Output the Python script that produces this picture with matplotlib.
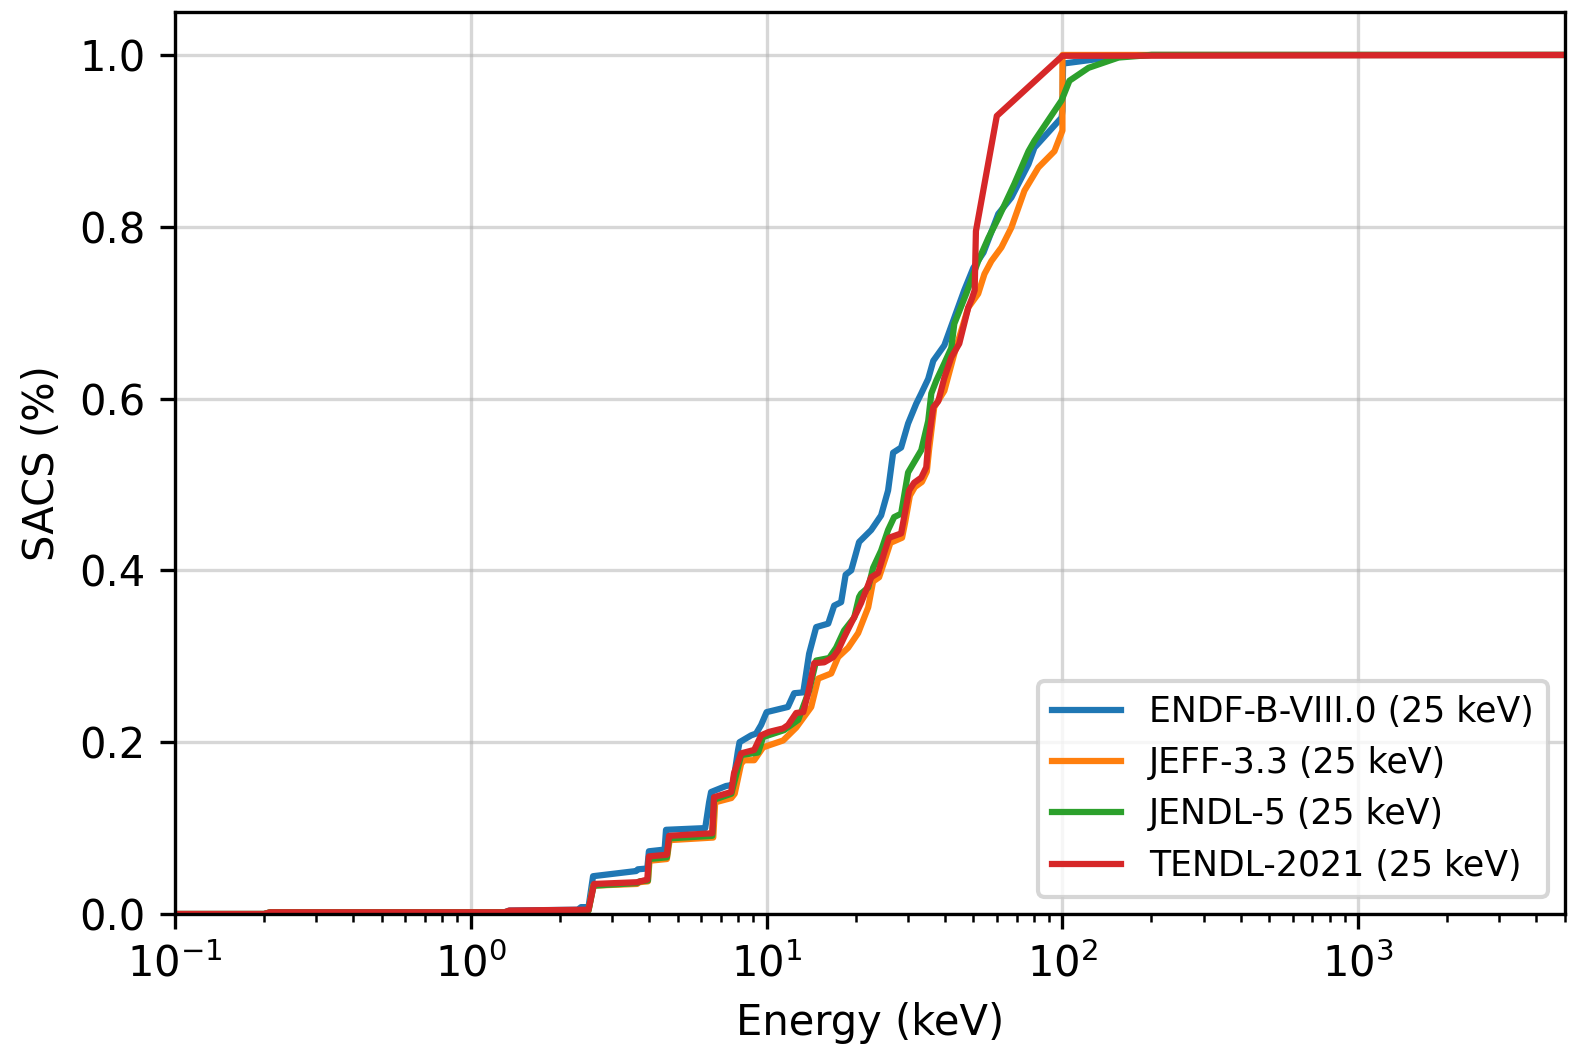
import matplotlib
matplotlib.use("Agg")
import matplotlib.pyplot as plt

labels = ["ENDF-B-VIII.0 (25 keV)", "JEFF-3.3 (25 keV)", "JENDL-5 (25 keV)", "TENDL-2021 (25 keV)"]
colors = ["#1f77b4", "#ff7f0e", "#2ca02c", "#d62728"]

endf_E = [0.1, 0.2, 0.21, 1.3, 1.35, 2.3, 2.36, 2.5, 2.59, 3.62, 3.67, 3.95, 4.0, 4.52, 4.57,
          6.2, 6.39, 6.49, 7.29, 7.59, 7.7, 8.0, 8.1, 8.87, 9.21, 9.58, 10.0, 11.8, 12.39, 13.3,
          13.92, 14.71, 16.15, 16.92, 17.86, 18.5, 19.32, 20.54, 22.57, 24.38, 25.74, 26.77,
          28.49, 30.08, 32.04, 33.33, 35.18, 36.6, 39.88, 43.09, 46.56, 49.97, 54.1, 60.7,
          67.2, 76.8, 80.4, 99.3, 100.0, 100.5, 130.0, 170.0, 200.0, 5000.0]
endf_v = [0.0, 0.0, 0.002, 0.002, 0.004, 0.005, 0.008, 0.008, 0.044, 0.050, 0.052, 0.053, 0.073,
          0.075, 0.098, 0.100, 0.130, 0.142, 0.149, 0.150, 0.152, 0.190, 0.200, 0.208, 0.210,
          0.220, 0.235, 0.241, 0.257, 0.258, 0.303, 0.334, 0.338, 0.359, 0.363, 0.395, 0.400,
          0.433, 0.447, 0.464, 0.493, 0.537, 0.543, 0.571, 0.594, 0.606, 0.623, 0.644, 0.662,
          0.694, 0.726, 0.752, 0.770, 0.815, 0.834, 0.873, 0.892, 0.927, 0.935, 0.990, 0.995,
          0.999, 1.0, 1.0]

jeff_E = [0.1, 0.2, 0.21, 1.3, 1.35, 2.5, 2.59, 3.65, 3.7, 3.97, 4.02, 4.6, 4.7, 6.6, 6.7,
          7.6, 7.8, 8.2, 8.4, 9.08, 9.73, 11.37, 12.59, 14.15, 14.94, 16.53, 17.45, 18.87,
          20.39, 22.05, 22.9, 24.0, 25.2, 26.2, 28.7, 29.4, 30.5, 31.7, 33.5, 34.8, 35.4,
          36.87, 39.88, 43.09, 48.05, 51.9, 54.5, 57.5, 62.2, 67.2, 74.4, 82.9, 94.0, 100.0,
          100.01, 5000.0]
jeff_v = [0.0, 0.0, 0.002, 0.002, 0.003, 0.004, 0.033, 0.035, 0.037, 0.038, 0.062, 0.064, 0.086,
          0.089, 0.130, 0.135, 0.140, 0.175, 0.179, 0.179, 0.194, 0.202, 0.217, 0.241, 0.274,
          0.280, 0.299, 0.310, 0.327, 0.357, 0.387, 0.392, 0.414, 0.432, 0.438, 0.456, 0.487,
          0.497, 0.503, 0.515, 0.540, 0.590, 0.609, 0.652, 0.706, 0.722, 0.745, 0.760, 0.776,
          0.799, 0.842, 0.869, 0.888, 0.912, 1.0, 1.0]

jendl_E = [0.1, 0.2, 0.21, 1.3, 1.35, 2.5, 2.6, 3.65, 3.72, 3.97, 4.0, 4.6, 4.68, 6.55, 6.64,
           7.6, 8.2, 9.36, 9.73, 11.45, 12.79, 13.92, 14.71, 16.28, 17.18, 18.28, 19.77, 20.54,
           20.86, 22.05, 22.91, 24.38, 25.74, 26.98, 28.49, 30.08, 32.04, 33.33, 35.18, 36.04,
           37.47, 39.88, 42.11, 43.09, 47.28, 51.9, 56.2, 60.7, 68.8, 76.8, 80.4, 99.3, 105.6,
           122.5, 154.8, 200.0, 5000.0]
jendl_v = [0.0, 0.0, 0.002, 0.002, 0.003, 0.004, 0.033, 0.036, 0.038, 0.039, 0.064, 0.066,
           0.088, 0.091, 0.133, 0.140, 0.185, 0.188, 0.206, 0.214, 0.226, 0.260, 0.295, 0.298,
           0.310, 0.330, 0.345, 0.369, 0.373, 0.380, 0.403, 0.423, 0.447, 0.462, 0.466, 0.514,
           0.530, 0.540, 0.574, 0.606, 0.621, 0.641, 0.659, 0.687, 0.722, 0.760, 0.787, 0.810,
           0.850, 0.888, 0.900, 0.947, 0.970, 0.985, 0.997, 1.0, 1.0]

tendl_E = [0.1, 0.2, 0.21, 1.3, 1.35, 2.5, 2.61, 3.65, 3.95, 4.0, 4.6, 4.68, 6.55, 6.64, 7.59,
           7.76, 8.2, 9.08, 9.58, 10.19, 11.37, 11.82, 12.59, 13.3, 13.81, 14.48, 15.66, 16.79,
           17.45, 18.28, 19.02, 20.08, 20.86, 22.57, 23.81, 24.95, 25.94, 28.49, 29.17, 30.31,
           31.52, 33.33, 34.65, 35.18, 36.04, 36.6, 38.05, 39.88, 42.11, 44.8, 48.05, 49.5,
           50.5, 51.0, 60.0, 100.0, 5000.0]
tendl_v = [0.0, 0.0, 0.002, 0.002, 0.004, 0.005, 0.035, 0.037, 0.040, 0.067, 0.069, 0.091,
           0.094, 0.136, 0.142, 0.164, 0.187, 0.191, 0.208, 0.212, 0.216, 0.220, 0.234, 0.235,
           0.257, 0.292, 0.293, 0.299, 0.307, 0.322, 0.334, 0.350, 0.362, 0.392, 0.397, 0.420,
           0.438, 0.443, 0.462, 0.493, 0.502, 0.508, 0.520, 0.548, 0.574, 0.590, 0.597, 0.624,
           0.648, 0.664, 0.706, 0.717, 0.726, 0.795, 0.929, 0.999, 1.0]

series = [(endf_E, endf_v), (jeff_E, jeff_v), (jendl_E, jendl_v), (tendl_E, tendl_v)]

fig = plt.figure(figsize=(1573 / 300, 1056 / 300), dpi=300)
ax = fig.add_axes([175 / 1573, 142 / 1056, 1390 / 1573, 902 / 1056])

for (E, v), lab, c in zip(series, labels, colors):
    ax.plot(E, v, color=c, lw=1.5, label=lab)

ax.set_xscale("log")
ax.set_xlim(0.1, 5000)
ax.set_ylim(0, 1.05)
ax.grid(True, alpha=0.5)
ax.set_xlabel("Energy (keV)")
ax.set_ylabel("SACS (%)")
ax.legend(loc="lower right", fontsize="small")

fig.savefig("out.png", dpi=300)
